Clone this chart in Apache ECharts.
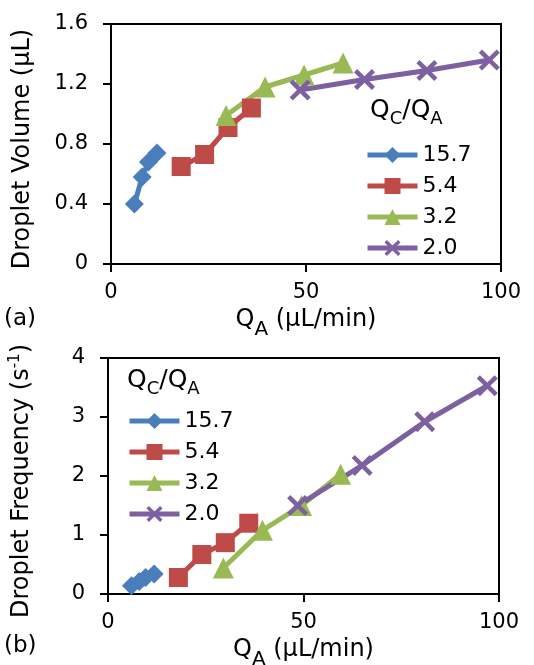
<!DOCTYPE html>
<html>
<head>
<meta charset="utf-8">
<script src="https://cdn.jsdelivr.net/npm/echarts@6/dist/echarts.min.js"></script>
<style>
  html, body { margin: 0; padding: 0; background: #fff; }
  #chart { width: 534px; height: 665px; }
</style>
</head>
<body>
<div id="chart"></div>
<script>
// Qc/Qa ratios (legend names)
const ratios = ['15.7', '5.4', '3.2', '2.0']

// Q_A flow rate (µL/min) per ratio
const flowBlue = [6, 8, 9.6, 11.8]
const flowRed = [18, 24, 30, 36]
const flowGreen = [29.5, 39.5, 49.5, 59.5]
const flowPurple = [48.5, 65, 81, 97]

// (a) droplet volume (µL)
const volBlue = [0.40, 0.58, 0.68, 0.74]
const volRed = [0.65, 0.73, 0.91, 1.04]
const volGreen = [0.99, 1.18, 1.26, 1.34]
const volPurple = [1.16, 1.23, 1.29, 1.36]

// (b) droplet frequency (1/s)
const freqBlue = [0.14, 0.21, 0.28, 0.34]
const freqRed = [0.28, 0.67, 0.87, 1.2]
const freqGreen = [0.44, 1.08, 1.5, 2.03]
const freqPurple = [1.5, 2.18, 2.92, 3.53]

const flows = [flowBlue, flowRed, flowGreen, flowPurple]
const vols = [volBlue, volRed, volGreen, volPurple]
const freqs = [freqBlue, freqRed, freqGreen, freqPurple]

const colors = ['#4A7EBB', '#BE4B48', '#98B954', '#7D60A0']
const crossPath = 'path://M1.5,0 L5,3.5 L8.5,0 L10,1.5 L6.5,5 L10,8.5 L8.5,10 L5,6.5 L1.5,10 L0,8.5 L3.5,5 L0,1.5 Z'
const symbols = ['diamond', 'rect', 'triangle', crossPath]
const symbolSizes = [19, 19, 21, 21]

const FONT = '"DejaVu Sans", "Liberation Sans", Arial, sans-serif'

const chart = echarts.init(document.getElementById('chart'))

const zip = (xs, ys) => xs.map((x, i) => [x, ys[i]])

// 两个面板的坐标轴样式
const axisLine = { show: true, lineStyle: { color: '#000', width: 2 } }
const axisTick = { show: true, length: 8, lineStyle: { color: '#000', width: 2 } }
const labelStyle = { color: '#000', fontSize: 21, fontFamily: FONT }

const makeX = (gridIndex) => ({
  type: 'value',
  gridIndex,
  min: 0,
  max: 100,
  interval: 50,
  axisLine,
  axisTick,
  splitLine: { show: false },
  axisLabel: { ...labelStyle, margin: 18 },
  name: '{t|Q}{s|A}{t| (µL/min)}',
  nameLocation: 'middle',
  nameGap: 36,
  nameTextStyle: {
    fontFamily: FONT,
    rich: {
      t: { fontSize: 24, color: '#000', fontFamily: FONT },
      s: { fontSize: 20, color: '#000', fontFamily: FONT, padding: [20, 0, 0, 0] },
    },
  },
})

const series = []
ratios.forEach((name, i) => {
  const common = {
    type: 'line',
    name,
    symbol: symbols[i],
    symbolSize: symbolSizes[i],
    lineStyle: { color: colors[i], width: 5 },
    itemStyle: { color: colors[i] },
    emphasis: { disabled: true },
    animation: false,
  }
  series.push({ ...common, xAxisIndex: 0, yAxisIndex: 0, data: zip(flows[i], vols[i]) })
  series.push({ ...common, xAxisIndex: 1, yAxisIndex: 1, data: zip(flows[i], freqs[i]) })
})

const legendBase = {
  orient: 'vertical',
  data: ratios,
  itemWidth: 50,
  itemHeight: 20,
  itemGap: 9,
  selectedMode: false,
  lineStyle: { width: 5 },
  textStyle: { color: '#000', fontSize: 22, lineHeight: 22, fontFamily: FONT, padding: [0, 0, 0, 0] },
}

const titleRich = {
  q: { fontSize: 25, color: '#000', fontFamily: FONT },
  s: { fontSize: 18, color: '#000', fontFamily: FONT, padding: [17, 0, 0, 0] },
}

chart.setOption({
  backgroundColor: '#fff',
  textStyle: { fontFamily: FONT },
  grid: [
    { left: 111, top: 24, width: 390, height: 240, show: true, borderColor: '#000', borderWidth: 2, outerBoundsMode: 'none' },
    { left: 108, top: 358, width: 391, height: 236, show: true, borderColor: '#000', borderWidth: 2, outerBoundsMode: 'none' },
  ],
  xAxis: [makeX(0), makeX(1)],
  yAxis: [
    {
      type: 'value',
      gridIndex: 0,
      min: 0,
      max: 1.6,
      interval: 0.4,
      axisLine,
      axisTick,
      splitLine: { show: false },
      axisLabel: { ...labelStyle, margin: 23, formatter: v => (v === 0 ? '0' : v.toFixed(1)) },
      name: 'Droplet Volume (µL)',
      nameLocation: 'middle',
      nameGap: 76,
      nameTextStyle: { color: '#000', fontSize: 24, fontFamily: FONT, padding: [0, 10, 0, 0] },
    },
    {
      type: 'value',
      gridIndex: 1,
      min: 0,
      max: 4,
      interval: 1,
      axisLine,
      axisTick,
      splitLine: { show: false },
      axisLabel: { ...labelStyle, margin: 23 },
      name: '{t|Droplet Frequency (s}{p|-1}{t|)}',
      nameLocation: 'middle',
      nameGap: 73,
      nameTextStyle: {
        fontFamily: FONT,
        padding: [0, 10, 0, 0],
        rich: {
          t: { fontSize: 24, color: '#000', fontFamily: FONT },
          p: { fontSize: 15, color: '#000', fontFamily: FONT, padding: [0, 0, 12, 0] },
        },
      },
    },
  ],
  legend: [
    { ...legendBase, left: 360, top: 139 },
    { ...legendBase, left: 122, top: 405 },
  ],
  graphic: [
    {
      type: 'text',
      left: 370,
      top: 98,
      style: { text: '{q|Q}{s|C}{q|/Q}{s|A}', rich: titleRich },
    },
    {
      type: 'text',
      left: 127,
      top: 368,
      style: { text: '{q|Q}{s|C}{q|/Q}{s|A}', rich: titleRich },
    },
    {
      type: 'text',
      left: 4,
      top: 308,
      style: { text: '(a)', fontSize: 23, fontFamily: FONT, fill: '#000' },
    },
    {
      type: 'text',
      left: 4,
      top: 635,
      style: { text: '(b)', fontSize: 23, fontFamily: FONT, fill: '#000' },
    },
  ],
  series,
})
</script>
</body>
</html>
